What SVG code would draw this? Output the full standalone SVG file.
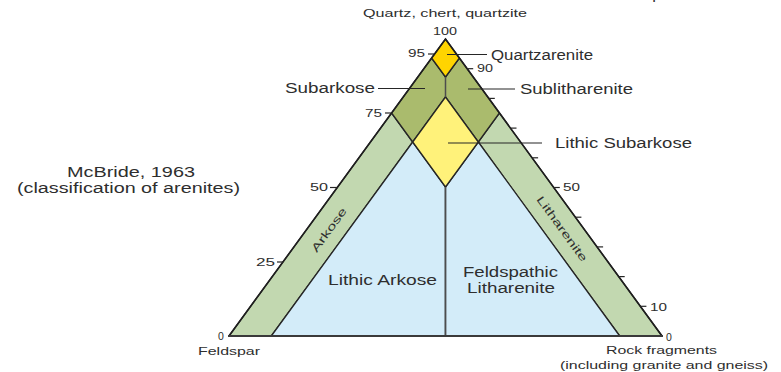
<svg xmlns="http://www.w3.org/2000/svg" width="781" height="372" viewBox="0 0 781 372">
  <style>
    .zone { stroke: #262626; stroke-width: 1.3; stroke-linejoin: round; }
    .qa { fill: #ffd400; }
    .sub { fill: #aabb6d; }
    .ls { fill: #fff27a; }
    .band { fill: #c2d8b0; }
    .la { fill: #d3ecf9; }
    .divider { stroke: #4d4d4d; stroke-width: 1.5; fill: none; }
    .tick { stroke: #262626; stroke-width: 1.2; fill: none; }
    .leader { stroke: #262626; stroke-width: 1.2; fill: none; }
    text { font-family: "Liberation Sans", Arial, sans-serif; fill: #2e2e2e; }
    .lbl { font-size: 14px; }
    .sm { font-size: 11px; }
    .num { font-size: 10.5px; }
  </style>

  <!-- partly visible heading above the frame -->
  <text class="sm" x="610" y="0" fill="#777" textLength="100" lengthAdjust="spacingAndGlyphs">metaquartzite</text>

  <!-- classification fields of the QFL triangle -->
  <g id="arkose-band">
    <polygon class="zone band" points="391.6,113 229,336 271.3,336 412.7,142"/>
  </g>
  <g id="litharenite-band">
    <polygon class="zone band" points="499.4,113 662,336 619.7,336 478.3,142"/>
  </g>
  <g id="lithic-arkose-field">
    <polygon class="zone la" points="412.7,142 271.3,336 445.5,336 445.5,187"/>
  </g>
  <g id="feldspathic-litharenite-field">
    <polygon class="zone la" points="445.5,187 445.5,336 619.7,336 478.3,142"/>
  </g>
  <g id="subarkose-sublitharenite-field">
    <polygon class="zone sub" points="431.6,58 391.6,113 412.7,142 445.5,97 478.3,142 499.4,113 459.4,58 445.5,77"/>
  </g>
  <g id="lithic-subarkose-field">
    <polygon class="zone ls" points="445.5,97 412.7,142 445.5,187 478.3,142"/>
  </g>
  <g id="quartzarenite-field">
    <polygon class="zone qa" points="445.5,39 431.6,58 445.5,77 459.4,58"/>
  </g>

  <!-- dividers, outline and base -->
  <g id="connectors">
    <line class="divider" x1="445.5" y1="77" x2="445.5" y2="97"/>
    <line class="divider" x1="445.5" y1="187" x2="445.5" y2="336"/>
    <polyline points="229,336 445.5,39 662,336" fill="none" stroke="#1f1f1f" stroke-width="1.6" stroke-linejoin="miter"/>
    <line x1="228" y1="336" x2="663" y2="336" stroke="#3a3a3a" stroke-width="2.2"/>

    <!-- left scale ticks -->
    <line class="tick" x1="428" y1="54" x2="434.6" y2="54"/>
    <line class="tick" x1="385" y1="113" x2="391.6" y2="113"/>
    <line class="tick" x1="330" y1="187.5" x2="337.3" y2="187.5"/>
    <line class="tick" x1="277" y1="262" x2="283" y2="262"/>

    <!-- right scale ticks, every 10 -->
    <line class="tick" x1="467.2" y1="68.7" x2="473.2" y2="68.7"/>
    <line class="tick" x1="488.8" y1="98.4" x2="494.8" y2="98.4"/>
    <line class="tick" x1="510.5" y1="128.1" x2="516.5" y2="128.1"/>
    <line class="tick" x1="532.1" y1="157.8" x2="538.1" y2="157.8"/>
    <line class="tick" x1="553.8" y1="187.5" x2="559.8" y2="187.5"/>
    <line class="tick" x1="575.4" y1="217.2" x2="581.4" y2="217.2"/>
    <line class="tick" x1="597.1" y1="246.9" x2="603.1" y2="246.9"/>
    <line class="tick" x1="618.7" y1="276.6" x2="624.7" y2="276.6"/>
    <line class="tick" x1="640.4" y1="306.3" x2="646.4" y2="306.3"/>

    <!-- label leaders -->
    <line class="leader" x1="447" y1="54.5" x2="487" y2="54.5"/>
    <line class="leader" x1="378" y1="88.5" x2="425" y2="88.5"/>
    <line class="leader" x1="468" y1="89" x2="515" y2="89"/>
    <line class="leader" x1="448" y1="143" x2="542" y2="143"/>
  </g>

  <!-- apex and corner names -->
  <g id="apex-quartz">
    <text class="sm" x="363" y="17" textLength="164" lengthAdjust="spacingAndGlyphs">Quartz, chert, quartzite</text>
  </g>
  <g id="corner-feldspar">
    <text class="sm" x="198" y="355" textLength="62" lengthAdjust="spacingAndGlyphs">Feldspar</text>
  </g>
  <g id="corner-rock-fragments">
    <text class="sm" x="606" y="354" textLength="111" lengthAdjust="spacingAndGlyphs">Rock fragments</text>
    <text class="sm" x="560" y="369" textLength="208" lengthAdjust="spacingAndGlyphs">(including granite and gneiss)</text>
  </g>

  <!-- scale numbers -->
  <g id="scale-numbers">
    <text class="num" x="433" y="35" textLength="24" lengthAdjust="spacingAndGlyphs">100</text>
    <text class="num" x="408" y="57" textLength="17" lengthAdjust="spacingAndGlyphs">95</text>
    <text class="num" x="477" y="72" textLength="16" lengthAdjust="spacingAndGlyphs">90</text>
    <text class="num" x="365" y="117" textLength="17" lengthAdjust="spacingAndGlyphs">75</text>
    <text class="num" x="310" y="191" textLength="18" lengthAdjust="spacingAndGlyphs">50</text>
    <text class="num" x="563" y="191" textLength="17" lengthAdjust="spacingAndGlyphs">50</text>
    <text class="num" x="256" y="266" textLength="19" lengthAdjust="spacingAndGlyphs">25</text>
    <text class="num" x="650" y="311" textLength="17" lengthAdjust="spacingAndGlyphs">10</text>
    <text class="num" x="218" y="340">0</text>
    <text class="num" x="666" y="341">0</text>
  </g>

  <!-- field names -->
  <g id="label-quartzarenite">
    <text class="lbl" x="491" y="59.5" textLength="102" lengthAdjust="spacingAndGlyphs">Quartzarenite</text>
  </g>
  <g id="label-subarkose">
    <text class="lbl" x="285" y="93" textLength="90" lengthAdjust="spacingAndGlyphs">Subarkose</text>
  </g>
  <g id="label-sublitharenite">
    <text class="lbl" x="520" y="93.5" textLength="113" lengthAdjust="spacingAndGlyphs">Sublitharenite</text>
  </g>
  <g id="label-lithic-subarkose">
    <text class="lbl" x="555" y="148" textLength="137" lengthAdjust="spacingAndGlyphs">Lithic Subarkose</text>
  </g>
  <g id="label-arkose">
    <text class="sm" x="0" y="0" text-anchor="middle" transform="translate(332,232) rotate(-54)" textLength="52" lengthAdjust="spacingAndGlyphs">Arkose</text>
  </g>
  <g id="label-litharenite">
    <text class="sm" x="0" y="0" text-anchor="middle" transform="translate(559,231) rotate(54)" textLength="78" lengthAdjust="spacingAndGlyphs">Litharenite</text>
  </g>
  <g id="label-lithic-arkose">
    <text class="lbl" x="328" y="285" textLength="109" lengthAdjust="spacingAndGlyphs">Lithic Arkose</text>
  </g>
  <g id="label-feldspathic-litharenite">
    <text class="lbl" x="463" y="277" textLength="95" lengthAdjust="spacingAndGlyphs">Feldspathic</text>
    <text class="lbl" x="467" y="293" textLength="88" lengthAdjust="spacingAndGlyphs">Litharenite</text>
  </g>

  <!-- source note -->
  <g id="source-note">
    <text class="lbl" x="67" y="177" textLength="128" lengthAdjust="spacingAndGlyphs">McBride, 1963</text>
    <text class="lbl" x="17" y="193" textLength="223" lengthAdjust="spacingAndGlyphs">(classification of arenites)</text>
  </g>
</svg>
